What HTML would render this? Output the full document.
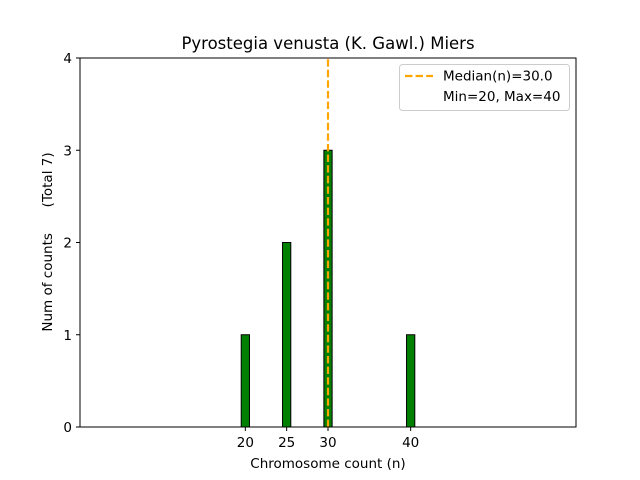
<!DOCTYPE html>
<html><head><meta charset="utf-8"><style>
body{margin:0;background:#fff}
svg{display:block;font-family:"DejaVu Sans","Liberation Sans",sans-serif}
text{white-space:pre}
</style></head><body>
<svg id="chart" width="640" height="480">
<text x="328" y="49" font-size="16.5" text-anchor="middle">Pyrostegia venusta (K. Gawl.) Miers</text>
<g id="bars"></g>
<line x1="80" y1="427" x2="440" y2="427" stroke="#bbb" stroke-width="1"/>
<line id="median" y1="427" y2="58" stroke="#ffa500" stroke-width="2.2" stroke-dasharray="7.4,3.2"/>
<rect x="80" y="58" width="496" height="369" fill="none" stroke="#000" stroke-width="1"/>
<g id="xt" font-size="13.5"></g>
<g id="yt" font-size="13.5"></g>
<text x="328" y="468" font-size="13.5" text-anchor="middle">Chromosome count (n)</text>
<text transform="translate(52,242) rotate(-90)" font-size="13.5" text-anchor="middle" xml:space="preserve">Num of counts      (Total 7)</text>
<g>
<rect x="399.5" y="64.5" width="170" height="46" rx="3" fill="#fff" stroke="#ccc"/>
<line x1="405" y1="76" x2="433" y2="76" stroke="#ffa500" stroke-width="2.2" stroke-dasharray="7.4,3.2"/>
<text x="443" y="80.5" font-size="13.5">Median(n)=30.0</text>
<text x="443" y="101" font-size="13.5">Min=20, Max=40</text>
</g>
</svg>
<script>
const categories=[20,25,30,40];
const counts=[1,2,3,1];
const xTicks=[20,25,30,40];
const yTicks=[0,1,2,3,4];
const medianValue=30;
const X=v=>80+(v/60)*496, Y=v=>427-(v/4)*369;
const ns="http://www.w3.org/2000/svg";
const bars=document.getElementById('bars');
categories.forEach((c,i)=>{
 const r=document.createElementNS(ns,'rect');
 r.setAttribute('x',X(c-0.5));r.setAttribute('width',X(c+0.5)-X(c-0.5));
 r.setAttribute('y',Y(counts[i]));r.setAttribute('height',Y(0)-Y(counts[i]));
 r.setAttribute('fill','#008000');r.setAttribute('stroke','#000');r.setAttribute('stroke-width','1');
 
 
 bars.appendChild(r);
});
const m=document.getElementById('median');m.setAttribute('x1',X(medianValue));m.setAttribute('x2',X(medianValue));
const xt=document.getElementById('xt');
xTicks.forEach(t=>{
 const l=document.createElementNS(ns,'line');l.setAttribute('x1',X(t));l.setAttribute('x2',X(t));l.setAttribute('y1',427);l.setAttribute('y2',431);l.setAttribute('stroke','#000');
 
 
 xt.appendChild(l);
 const s=document.createElementNS(ns,'text');s.setAttribute('x',X(t));s.setAttribute('y',447);s.setAttribute('text-anchor','middle');s.textContent=t;
 
 
 xt.appendChild(s);
});
const yt=document.getElementById('yt');
yTicks.forEach(t=>{
 const l=document.createElementNS(ns,'line');l.setAttribute('x1',76);l.setAttribute('x2',80);l.setAttribute('y1',Y(t));l.setAttribute('y2',Y(t));l.setAttribute('stroke','#000');
 
 
 yt.appendChild(l);
 const s=document.createElementNS(ns,'text');s.setAttribute('x',72);s.setAttribute('y',Y(t)+5);s.setAttribute('text-anchor','end');s.textContent=t;
 
 
 yt.appendChild(s);
});
</script>
</body></html>
